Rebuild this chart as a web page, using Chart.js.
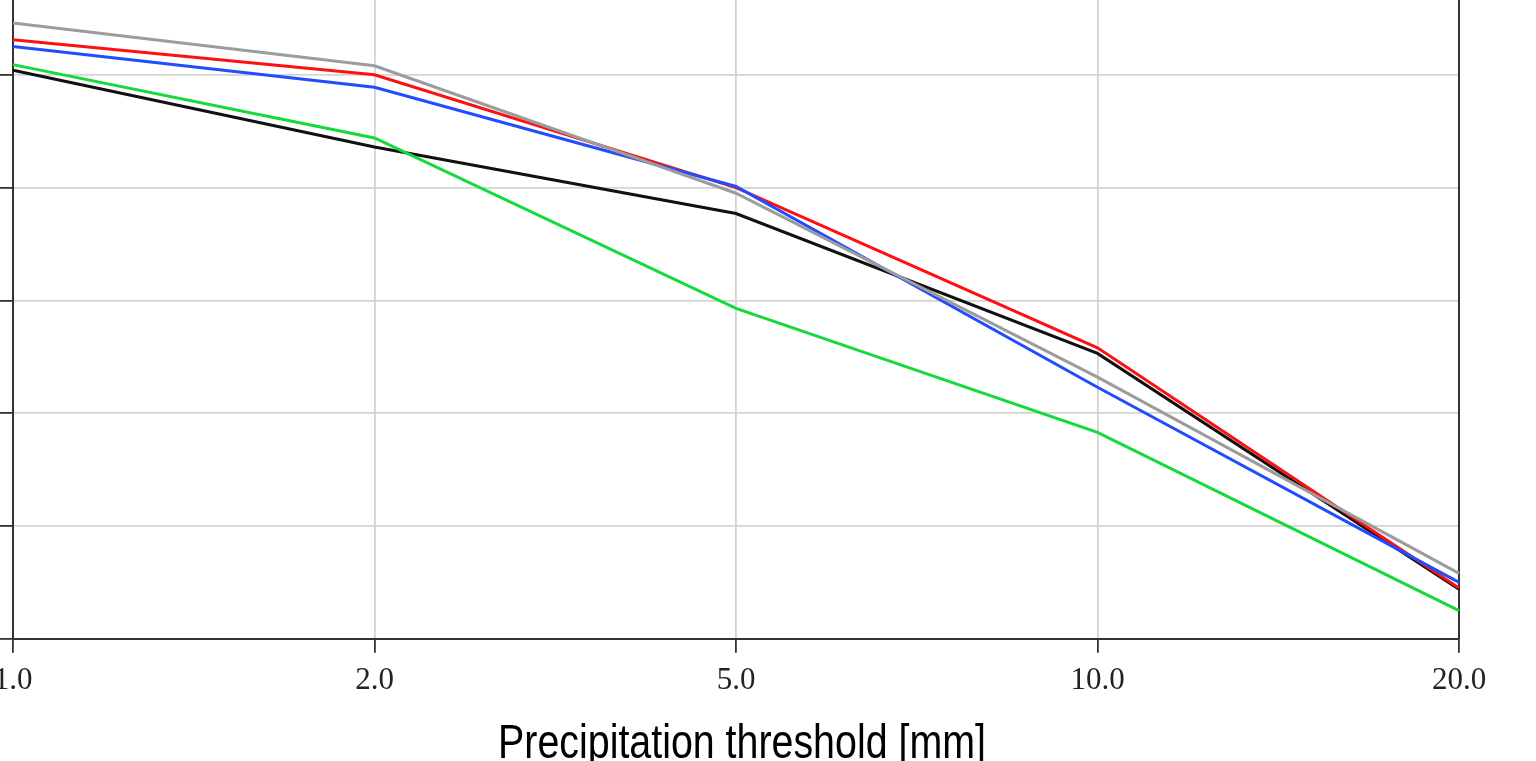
<!DOCTYPE html>
<html>
<head>
<meta charset="utf-8">
<script src="https://cdn.jsdelivr.net/npm/chart.js@4.4.0/dist/chart.umd.min.js"></script>
<style>
  html, body { margin: 0; padding: 0; background: #fff; overflow: hidden; }
  #wrap { position: absolute; left: 0; top: -38px; }
</style>
</head>
<body>
<div id="wrap"><canvas id="grafico" width="1536" height="826"></canvas></div>
<script>
// limiares de precipitacao (eixo x)
const limiares = ["1.0", "2.0", "5.0", "10.0", "20.0"];

// valores, uma serie por cor
const serieCinza = [0.546, 0.508, 0.395, 0.232, 0.058];
const serieVermelha = [0.531, 0.500, 0.400, 0.258, 0.045];
const serieAzul = [0.525, 0.489, 0.401, 0.223, 0.050];
const serieVerde = [0.509, 0.444, 0.293, 0.183, 0.025];
const seriePreta = [0.504, 0.436, 0.377, 0.253, 0.044];

const yTicks = [0, 0.1, 0.2, 0.3, 0.4, 0.5, 0.6];

const tituloX = "Precipitation threshold [mm]";

function linha(label, data, cor) {
    return {
        label: label,
        data: data,
        borderColor: cor,
        backgroundColor: cor,
        borderWidth: 3,
        pointRadius: 0,
        tension: 0,
        fill: false
    };
}

// titulo do eixo x em fonte estreita (sem Liberation Sans Narrow instalada)
const tituloEstreito = {
    id: "tituloEstreito",
    afterDraw(chart) {
        const ctx = chart.ctx;
        const escala = chart.scales.x;
        const cx = (escala.left + escala.right) / 2 + 6;
        const baseY = escala.bottom + 50;
        ctx.save();
        ctx.translate(cx, baseY);
        ctx.scale(0.82, 1);
        ctx.font = "48px 'Liberation Sans', Arial, sans-serif";
        ctx.fillStyle = "#000";
        ctx.textAlign = "center";
        ctx.textBaseline = "alphabetic";
        ctx.fillText(tituloX, 0, 0);
        ctx.restore();
    }
};

const canvas = document.getElementById("grafico");
new Chart(canvas, {
    type: "line",
    data: {
        labels: limiares,
        datasets: [
            linha("verde", serieVerde, "#16d93c"),
            linha("cinza", serieCinza, "#9c9c9c"),
            linha("azul", serieAzul, "#1f4dff"),
            linha("vermelho", serieVermelha, "#ff1010"),
            linha("preto", seriePreta, "#111111")
        ]
    },
    options: {
        responsive: false,
        animation: false,
        devicePixelRatio: 1,
        layout: { padding: { top: 0, right: 77, bottom: 80, left: 0 } },
        plugins: {
            legend: { display: false },
            tooltip: { enabled: false }
        },
        scales: {
            x: {
                type: "category",
                offset: false,
                grid: { color: "#d4d4d4", lineWidth: 1.8, tickColor: "#333", tickLength: 14 },
                border: { color: "#333", width: 2 },
                ticks: {
                    color: "#222",
                    padding: 9,
                    maxRotation: 0,
                    autoSkip: false,
                    font: { family: "'Liberation Serif', serif", size: 31 }
                },
                afterFit: scale => {
                    scale.paddingLeft = 0;
                    scale.paddingRight = 0;
                }
            },
            y: {
                min: yTicks[0],
                max: yTicks[yTicks.length - 1],
                afterBuildTicks: scale => {
                    scale.ticks = yTicks.map(v => ({ value: v }));
                },
                grid: { color: "#d4d4d4", lineWidth: 1.8, tickColor: "#333", tickLength: 13 },
                border: { color: "#333", width: 2 },
                ticks: { display: false }
            },
            y2: {
                position: "right",
                display: true,
                grid: { display: false, drawTicks: false },
                border: { display: true, color: "#333", width: 2 },
                ticks: { display: false }
            }
        }
    },
    plugins: [tituloEstreito]
});
</script>
</body>
</html>
